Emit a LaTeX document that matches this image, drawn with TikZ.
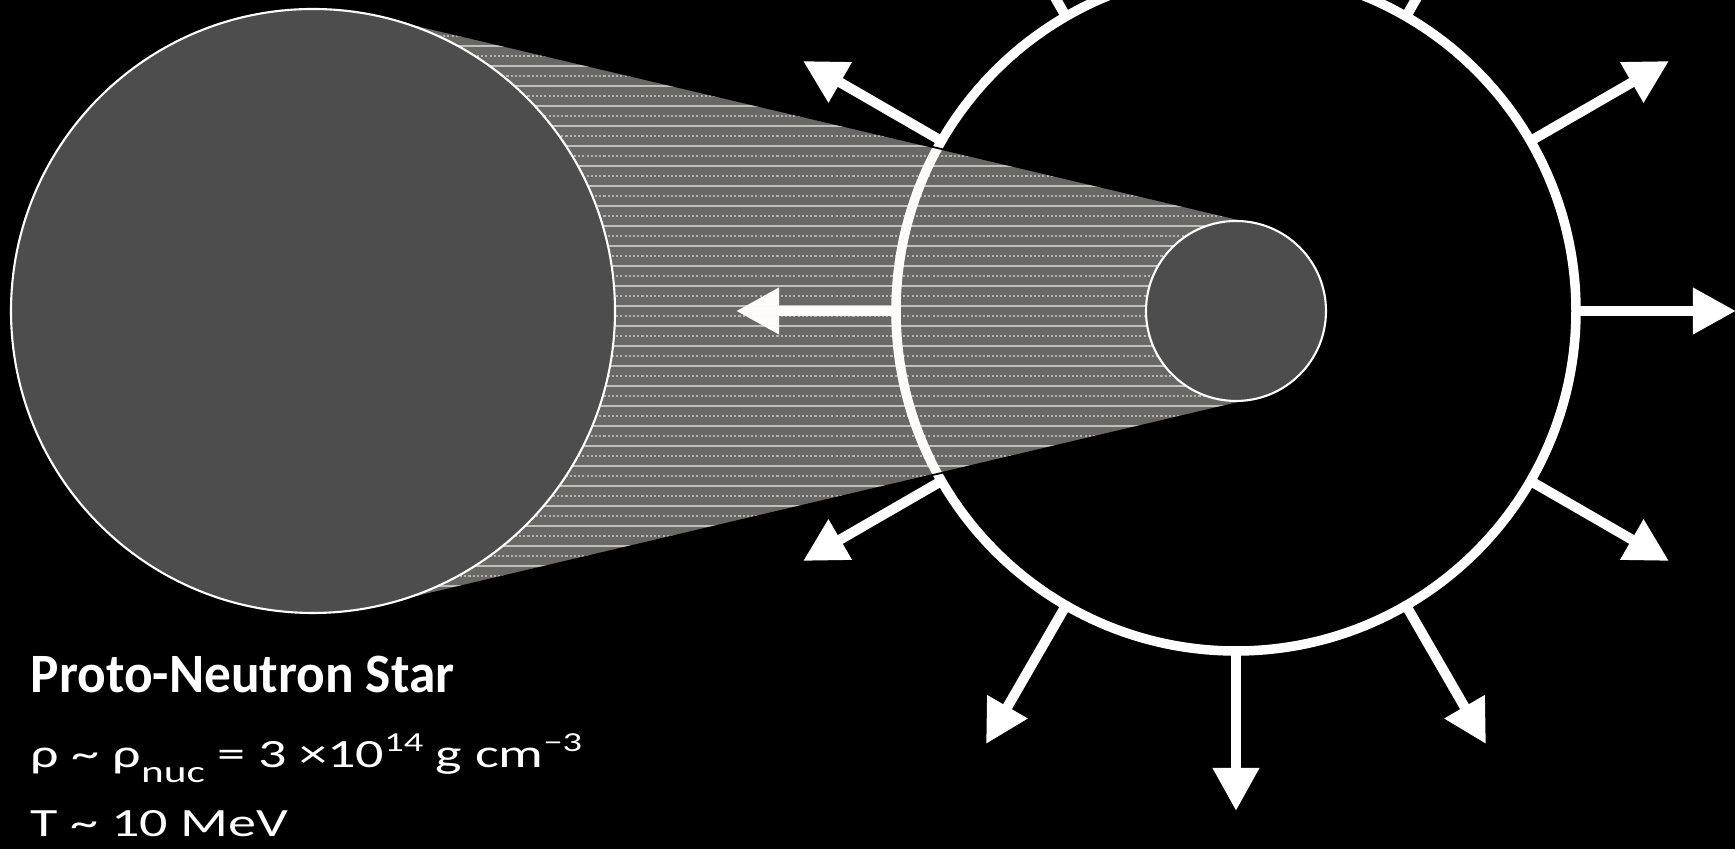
\documentclass[tikz,border=0pt]{standalone}
\usepackage{fontspec}
\setmainfont{Carlito}
\newfontfamily\headfont[FakeStretch=0.96]{Carlito}
\newfontfamily\bodyfont[FakeStretch=1.4]{Carlito}
\usetikzlibrary{arrows.meta,calc,positioning}
\definecolor{CoreGrey}{HTML}{4D4D4D}
\definecolor{ShellWhite}{HTML}{FFFFFF}
\definecolor{ConeLight}{HTML}{FBFAF2}
\newcommand{\lowidx}[1]{\raisebox{-0.36em}{\fontsize{8.8}{8.8}\selectfont #1}}
\newcommand{\highidx}[1]{\raisebox{0.42em}{\fontsize{7.8}{7.8}\selectfont #1}}

\begin{document}
\begin{tikzpicture}[x=0.01cm, y=0.01cm,
    shell/.style={draw=ShellWhite, line width=0.95mm},
    outflow/.style={draw=ShellWhite, line width=1mm, -{Triangle[length=4.3mm, width=4.4mm]}},
    star/.style={fill=CoreGrey, draw=white, line width=0.6pt},
    infotext/.style={white, anchor=base west, inner sep=0pt, font=\bodyfont\fontsize{11.4}{13}\selectfont}]
    % Background
    \useasboundingbox (0,0) rectangle (1735,849);
    \fill[black] (0,0) rectangle (1735,849);
    \clip (0,0) rectangle (1735,849);

    % Centres
    \coordinate (pns) at (313,538);
    \coordinate (core) at (1236,538);

    % Expanding shell and outflow arrows
    \draw[shell] (core) circle[radius=340];
    \foreach \a in {0,30,...,330} {
        \coordinate (s\a) at ($(core)+(\a:340)$);
        \coordinate (t\a) at ($(core)+(\a:500)$);
        \draw[outflow] (s\a) -- (t\a);
    }

    % Zoom cone
    \coordinate (pnsT) at ($(pns)+(76.72:302)$);
    \coordinate (pnsB) at ($(pns)+(-76.72:302)$);
    \coordinate (coreT) at ($(core)+(76.72:90)$);
    \coordinate (coreB) at ($(core)+(-76.72:90)$);
    \begin{scope}
        \clip (pns) -- (pnsT) -- (coreT) -- (core) -- (coreB) -- (pnsB) -- cycle;
        \fill[ConeLight, opacity=0.42] (0,0) rectangle (1735,849);
        \foreach \y in {3,23,...,843}
            \draw[ConeLight, opacity=0.6, line width=0.35pt] (0,\y) -- (1735,\y);
        \foreach \y in {13,33,...,843}
            \draw[ConeLight, opacity=0.5, line width=0.35pt, dash pattern=on 0.6pt off 0.6pt] (0,\y) -- (1735,\y);
    \end{scope}
    \draw[black, line width=0.5pt] (pnsT) -- (coreT) (pnsB) -- (coreB);

    % Stars
    \draw[star] (pns) circle[radius=302];
    \draw[star] (core) circle[radius=90];

    % Text
    \node[infotext, font=\headfont\fontsize{15.8}{18}\selectfont\bfseries] (title) at (30,156) {Proto-Neutron Star};
    \node[infotext] (density) at (30,81) {ρ \textasciitilde{} ρ\lowidx{nuc} = 3 ×10\highidx{14} g cm\highidx{−3}};
    \node[infotext] (temp) at (30,12) {T \textasciitilde{} 10 MeV};
\end{tikzpicture}
\end{document}
